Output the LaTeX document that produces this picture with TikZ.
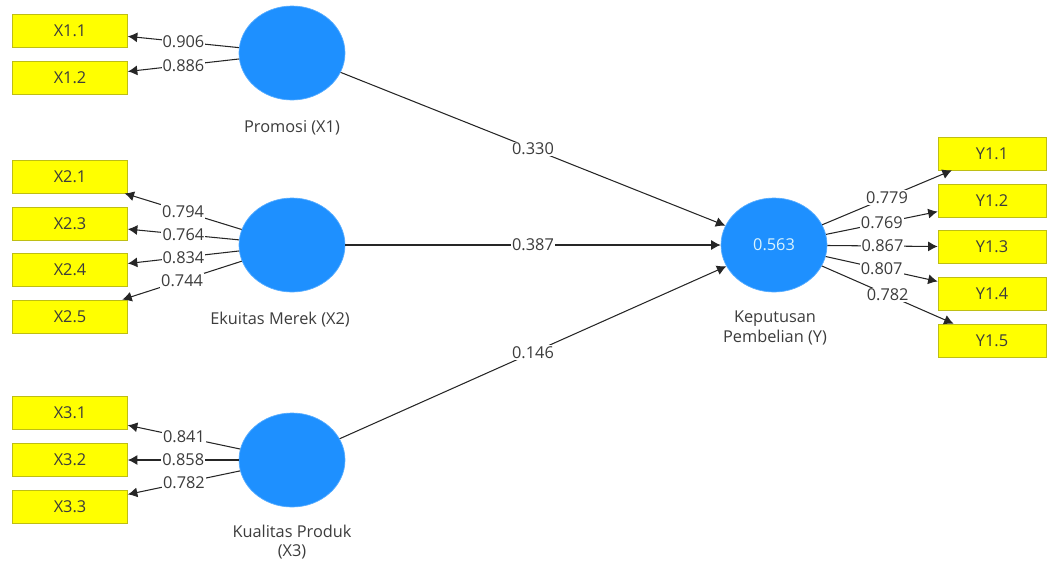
\documentclass[tikz,border=0pt]{standalone}
\usepackage{fontspec}
\setmainfont{Open Sans}
\usetikzlibrary{shapes.geometric,arrows.meta}
\definecolor{lvblue}{RGB}{30,144,255}
\definecolor{indyellow}{RGB}{255,255,0}
\definecolor{indborder}{RGB}{190,190,20}
\definecolor{txtgray}{RGB}{60,60,60}

\begin{document}
\begin{tikzpicture}[x=0.02cm,y=-0.02cm,
			>={Latex[length=1.9mm,width=2mm]},
			link/.style={->,draw=black!85,line width=0.6pt},
			latent node/.style={ellipse,draw=lvblue!75!white,fill=lvblue,minimum width=2.12cm,minimum height=1.88cm,inner sep=0pt},
			ind node/.style={rectangle,draw=indborder,fill=indyellow,minimum width=2.3cm,minimum height=0.66cm,inner sep=0pt,text=txtgray,font=\fontsize{9.3}{11}\selectfont},
			coef/.style={fill=white,inner sep=0.6pt,text=txtgray,font=\fontsize{9.3}{11}\selectfont},
			name label/.style={align=center,text=txtgray,font=\fontsize{9.3}{11.3}\selectfont}
			]
			
			\useasboundingbox (0,0) rectangle (1047,562);
			
			% konstruk
			\node[latent node] at (292,53) (pro) {};
			\node[latent node] at (292,245) (eku) {};
			\node[latent node] at (292,460) (kua) {};
			\node[latent node,text=white!85!cyan,font=\fontsize{9.3}{11}\selectfont] at (774,245) (kep) {0.563};
			
			\node[name label] at (292,128) (pro lab) {Promosi (X1)};
			\node[name label] at (280,320) (eku lab) {Ekuitas Merek (X2)};
			\node[name label] at (292,542) (kua lab) {Kualitas Produk\\(X3)};
			\node[name label] at (775,328) (kep lab) {Keputusan\\Pembelian (Y)};
			
			% indikator
			\foreach \nm/\lab/\yy in {x11/X1.1/30.5, x12/X1.2/78, x21/X2.1/176.5, x23/X2.3/223.5, x24/X2.4/270, x25/X2.5/316.5, x31/X3.1/413, x32/X3.2/460, x33/X3.3/506.5} {
				\node[ind node] at (70,\yy) (\nm) {\lab};
			}
			\foreach \nm/\lab/\yy in {y11/Y1.1/153.5, y12/Y1.2/200.5, y13/Y1.3/247, y14/Y1.4/293.5, y15/Y1.5/340.5} {
				\node[ind node,minimum width=2.16cm] at (992,\yy) (\nm) {\lab};
			}
			
			% outer loadings
			\foreach \nm/\val in {x11/0.906, x12/0.886} {
				\draw[link] (pro) -- node[coef] {\val} (\nm);
			}
			\foreach \nm/\val in {x21/0.794, x23/0.764, x24/0.834, x25/0.744} {
				\draw[link] (eku) -- node[coef] {\val} (\nm);
			}
			\foreach \nm/\val in {x31/0.841, x32/0.858, x33/0.782} {
				\draw[link] (kua) -- node[coef] {\val} (\nm);
			}
			\foreach \nm/\val in {y11/0.779, y12/0.769, y13/0.867, y14/0.807, y15/0.782} {
				\draw[link] (kep) -- node[coef] {\val} (\nm);
			}
			
			% path coefficients
			\draw[link] (pro) -- node[coef] {0.330} (kep);
			\draw[link] (eku) -- node[coef] {0.387} (kep);
			\draw[link] (kua) -- node[coef] {0.146} (kep);
\end{tikzpicture}
\end{document}
